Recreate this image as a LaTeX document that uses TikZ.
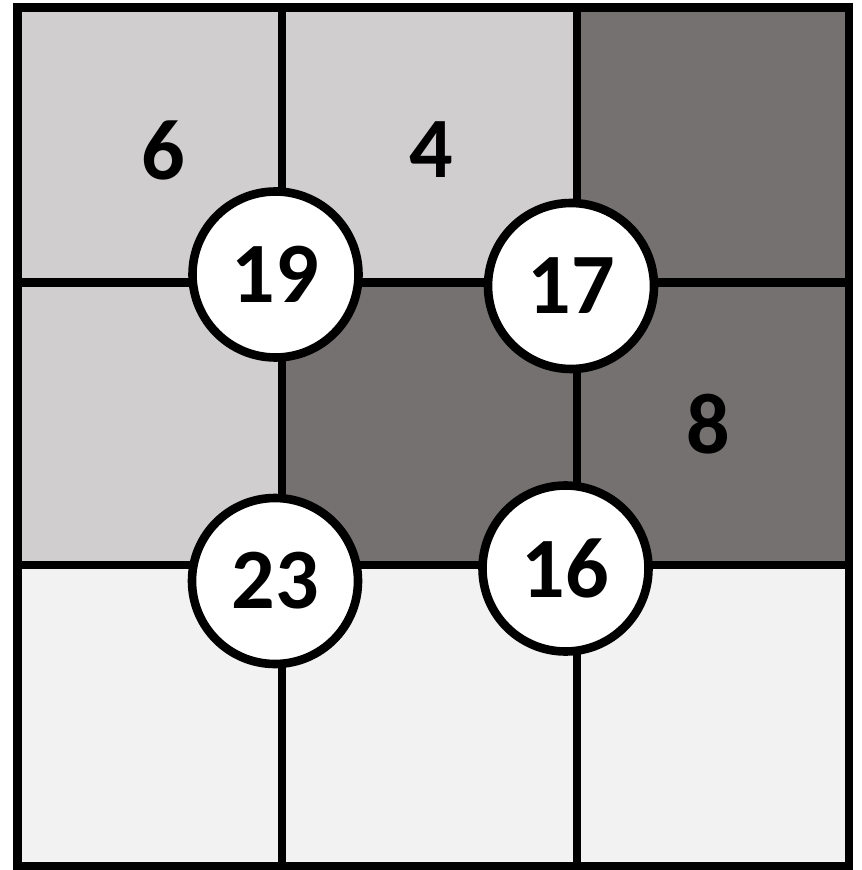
\documentclass[tikz,border=0pt]{standalone}
\usepackage{fontspec}
\setmainfont{Carlito}
\definecolor{lightg}{HTML}{D0CECE}
\definecolor{darkg}{HTML}{767171}
\definecolor{paleg}{HTML}{F2F2F2}
\begin{document}
\begin{tikzpicture}[x=0.5pt,y=-0.5pt,
  gridline/.style={line width=4.3pt,black},
  knot/.style={circle,draw=black,line width=4.3pt,fill=white,minimum size=83pt,inner sep=0pt,font=\fontsize{43}{43}\selectfont\bfseries},
  num/.style={font=\fontsize{43}{43}\selectfont\bfseries}]
\useasboundingbox (0,0) rectangle (861,870);
% fills
\fill[lightg] (17.5,7.5) rectangle (577,282.5);
\fill[lightg] (17.5,282.5) rectangle (282,565);
\fill[darkg] (577,7.5) rectangle (849,282.5);
\fill[darkg] (282,282.5) rectangle (849,565);
\fill[paleg] (17.5,565) rectangle (849,866);
% grid lines
\draw[gridline] (17.5,7.5) rectangle (849,866);
\draw[gridline] (282,7.5) -- (282,866);
\draw[gridline] (577,7.5) -- (577,866);
\draw[gridline] (17.5,282.5) -- (849,282.5);
\draw[gridline] (17.5,565) -- (849,565);
% cell numbers
\node[num] (n6) at (163,150) {6};
\node[num] (n4) at (431,150) {4};
\node[num] (n8) at (708,424) {8};
% circles
\node[knot] (c19) at (275.5,274.5) {19};
\node[knot] (c17) at (571,286) {17};
\node[knot] (c23) at (275,581) {23};
\node[knot] (c16) at (565.5,568.5) {16};
\end{tikzpicture}
\end{document}
